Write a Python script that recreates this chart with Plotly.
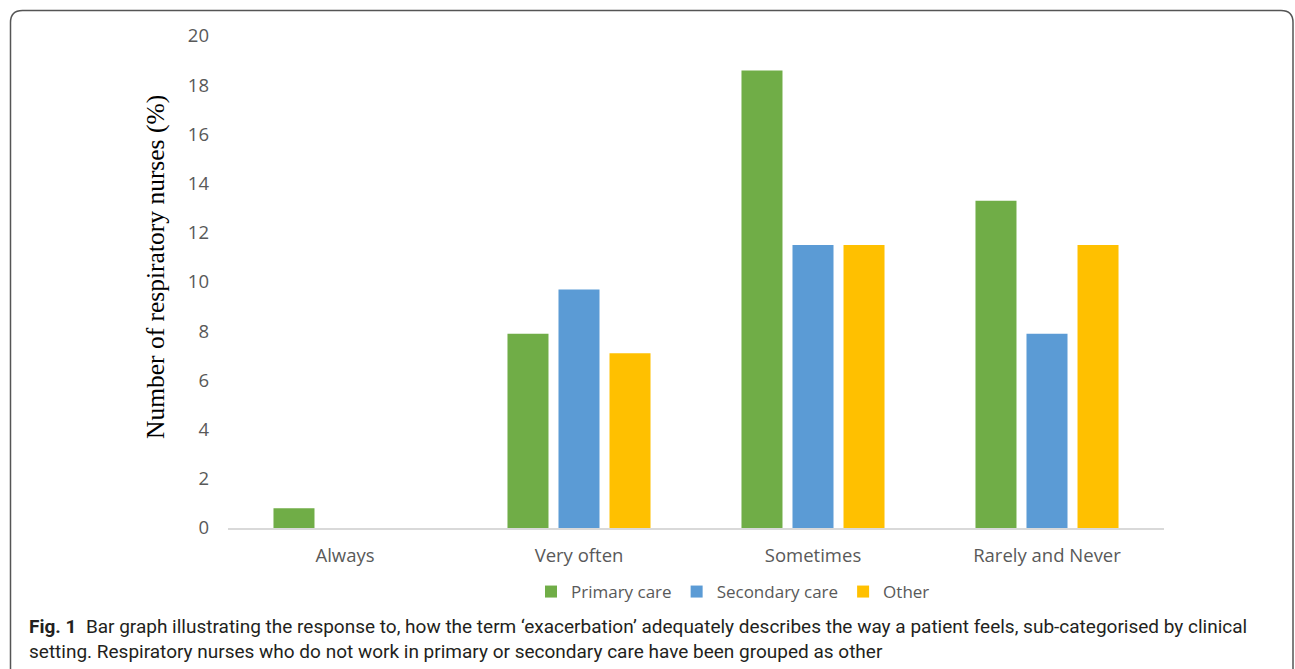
import plotly.graph_objects as go

categories = ["Always", "Very often", "Sometimes", "Rarely and Never"]
primary_care = [0.8, 7.9, 18.6, 13.3]
secondary_care = [0, 9.7, 11.5, 7.9]
other = [0, 7.1, 11.5, 11.5]
y_ticks = [0, 2, 4, 6, 8, 10, 12, 14, 16, 18, 20]

W, H = 1295, 669
L, R, T, B = 228, 1164, 36, 528  # plot area in pixels


def px(x):
    return (x - L) / (R - L)


def py(y):
    return (B - y) / (B - T)


fig = go.Figure()
for name, vals, col in [
    ("Primary care", primary_care, "#70ad47"),
    ("Secondary care", secondary_care, "#5b9bd5"),
    ("Other", other, "#ffc000"),
]:
    fig.add_trace(go.Bar(x=categories, y=vals, name=name, marker_color=col,
                         marker_line_width=0))

# rounded frame around the figure, open at the bottom
r = 12
x0, x1, y0, y1 = 10.5, 1293, 10.5, 680
path = (f"M {px(x0)} {py(y1)} L {px(x0)} {py(y0 + r)} "
        f"Q {px(x0)} {py(y0)} {px(x0 + r)} {py(y0)} "
        f"L {px(x1 - r)} {py(y0)} Q {px(x1)} {py(y0)} {px(x1)} {py(y0 + r)} "
        f"L {px(x1)} {py(y1)}")

caption_font = dict(family="Roboto", size=19, color="#231f20")

fig.update_layout(
    width=W, height=H,
    margin=dict(l=L, r=W - R, t=T, b=H - B),
    paper_bgcolor="white", plot_bgcolor="white",
    barmode="group", bargap=0.346, bargroupgap=0.196,
    font=dict(family="Open Sans", color="#595959", size=18),
    xaxis=dict(showline=True, linecolor="#d9d9d9", linewidth=1.5,
               showgrid=False, ticks="", tickfont=dict(size=18.5, color="#595959"),
               ticklabelstandoff=10),
    yaxis=dict(range=[0, 20], tickvals=y_ticks, showgrid=False, zeroline=False,
               showline=False, ticks="", tickfont=dict(size=18.5, color="#595959"),
               ticklabelstandoff=18),
    legend=dict(orientation="h", x=px(733), xanchor="center", y=py(592), yanchor="middle",
                font=dict(size=17, color="#595959"), itemwidth=30,
                traceorder="normal"),
    shapes=[dict(type="path", path=path, xref="paper", yref="paper",
                 line=dict(color="#555555", width=1.5))],
    annotations=[
        dict(text="Number of respiratory nurses (%)", textangle=-90,
             xref="paper", yref="paper", x=px(155), y=py(267),
             xanchor="center", yanchor="middle", showarrow=False,
             font=dict(family="Liberation Serif", size=25.5, color="black")),
        dict(text="<b>Fig. 1</b>  Bar graph illustrating the response to, how the term ‘exacerbation’ adequately describes the way a patient feels, sub-categorised by clinical",
             xref="paper", yref="paper", x=px(27), y=py(626), xanchor="left", yanchor="middle",
             showarrow=False, font=caption_font),
        dict(text="setting. Respiratory nurses who do not work in primary or secondary care have been grouped as other",
             xref="paper", yref="paper", x=px(27), y=py(651), xanchor="left", yanchor="middle",
             showarrow=False, font=caption_font),
    ],
)

fig.write_html("out.html")
